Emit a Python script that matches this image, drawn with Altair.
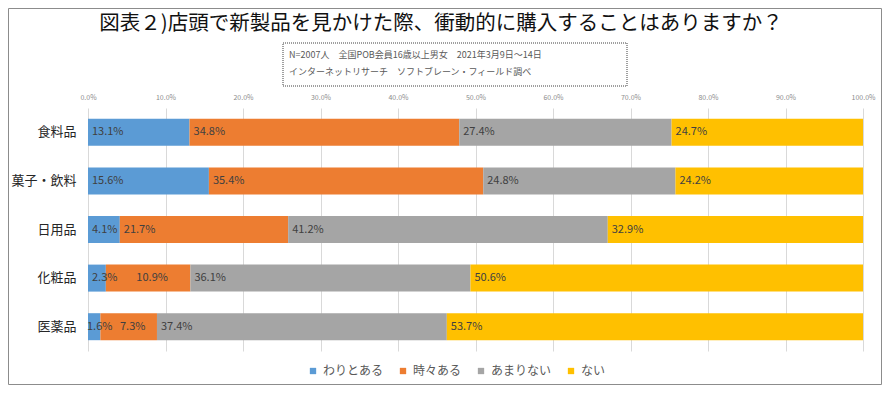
import altair as alt
import pandas as pd

FONT = "Noto Sans CJK JP"

title_text = "図表２)店頭で新製品を見かけた際、衝動的に購入することはありますか？"
note_line1 = "N=2007人　全国POB会員16歳以上男女　2021年3月9日～14日"
note_line2 = "インターネットリサーチ　ソフトブレーン・フィールド調べ"

categories = ["食料品", "菓子・飲料", "日用品", "化粧品", "医薬品"]
series = ["わりとある", "時々ある", "あまりない", "ない"]
v_wariaru = [13.1, 15.6, 4.1, 2.3, 1.6]
v_tokidoki = [34.8, 35.4, 21.7, 10.9, 7.3]
v_amari = [27.4, 24.8, 41.2, 36.1, 37.4]
v_nai = [24.7, 24.2, 32.9, 50.6, 53.7]
colors = ["#5B9BD5", "#ED7D31", "#A5A5A5", "#FFC000"]
tick_values = [0.0, 0.1, 0.2, 0.3, 0.4, 0.5, 0.6, 0.7, 0.8, 0.9, 1.0]

rows = []
for i, (name, vals) in enumerate(zip(series, [v_wariaru, v_tokidoki, v_amari, v_nai])):
    for c, v in zip(categories, vals):
        rows.append({"cat": c, "series": name, "order": i, "value": v})
df = pd.DataFrame(rows)

W, H = 775, 243

base = alt.Chart(df).transform_stack(
    stack="value",
    groupby=["cat"],
    sort=[alt.SortField("order", order="ascending")],
    as_=["x0", "x1"],
    offset="normalize",
).transform_calculate(
    label="format(datum.value, '.1f') + '%'",
    xm="(datum.x0 + datum.x1) / 2",
    centered="datum.order == 1 && datum.value < 12",
    tiny="datum.order == 0 && datum.value < 2",
)

yenc = alt.Y("cat:N", sort=categories, title=None,
             axis=alt.Axis(labelFontSize=13, labelColor="#262626", labelPadding=12,
                           ticks=False, domain=False, grid=False))

bars = base.mark_bar(size=27).encode(
    y=yenc,
    x=alt.X("x0:Q", scale=alt.Scale(domain=[0, 1], nice=False, zero=True), title=None,
            axis=alt.Axis(orient="top", values=tick_values, format=".1%", labelFontSize=7,
                          labelColor="#8C8C8C", labelPadding=8, labelFlush=False,
                          ticks=False, domain=False, grid=True, gridColor="#D9D9D9")),
    x2="x1:Q",
    color=alt.Color("series:N", sort=series,
                    scale=alt.Scale(domain=series, range=colors),
                    legend=alt.Legend(orient="none", legendX=219, legendY=257,
                                      direction="horizontal", title=None,
                                      symbolType="square", symbolSize=40,
                                      symbolStrokeWidth=0,
                                      labelFontSize=12, labelColor="#595959",
                                      columnPadding=13, labelOffset=4)),
    order=alt.Order("order:Q"),
)

labels_left = base.transform_filter("!datum.centered && !datum.tiny").mark_text(
    align="left", baseline="middle", dx=4, fontSize=11, color="#404040"
).encode(
    y=alt.Y("cat:N", sort=categories),
    x=alt.X("x0:Q"),
    text="label:N",
)

labels_tiny = base.transform_filter("datum.tiny").mark_text(
    align="left", baseline="middle", dx=-1, fontSize=11, color="#404040"
).encode(
    y=alt.Y("cat:N", sort=categories),
    x=alt.X("x0:Q"),
    text="label:N",
)

labels_mid = base.transform_filter("datum.centered").mark_text(
    align="center", baseline="middle", dx=4, fontSize=11, color="#404040"
).encode(
    y=alt.Y("cat:N", sort=categories),
    x=alt.X("xm:Q"),
    text="label:N",
)

title = alt.Chart(pd.DataFrame({"t": [title_text]})).mark_text(
    fontSize=20.5, color="#111111", align="center", baseline="middle"
).encode(x=alt.value(353), y=alt.value(-84), text="t:N")

note1 = alt.Chart(pd.DataFrame({"t": [note_line1]})).mark_text(
    fontSize=9, color="#595959", align="left", baseline="middle"
).encode(x=alt.value(201), y=alt.value(-53), text="t:N")

note2 = alt.Chart(pd.DataFrame({"t": [note_line2]})).mark_text(
    fontSize=9, color="#595959", align="left", baseline="middle"
).encode(x=alt.value(201), y=alt.value(-36), text="t:N")

box = alt.Chart(pd.DataFrame({"a": [0]})).mark_rect(
    fillOpacity=0, stroke="#404040", strokeWidth=1, strokeDash=[1, 1]
).encode(x=alt.value(195), x2=alt.value(539), y=alt.value(-65), y2=alt.value(-22))

border = alt.Chart(pd.DataFrame({"a": [0]})).mark_rect(
    fillOpacity=0, stroke="#8C8C8C", strokeWidth=1
).encode(x=alt.value(-79.5), x2=alt.value(793.5), y=alt.value(-99.5), y2=alt.value(276.5))

chart = alt.layer(border, bars, labels_left, labels_tiny, labels_mid, title, box,
                  note1, note2).properties(
    width=W, height=H,
    autosize=alt.AutoSizeParams(type="none"),
    padding={"left": 80, "top": 100, "right": 19, "bottom": 35},
).configure(font=FONT).configure_view(stroke=None)

chart.save("out.html", embed_options={"renderer": "svg", "actions": False})
